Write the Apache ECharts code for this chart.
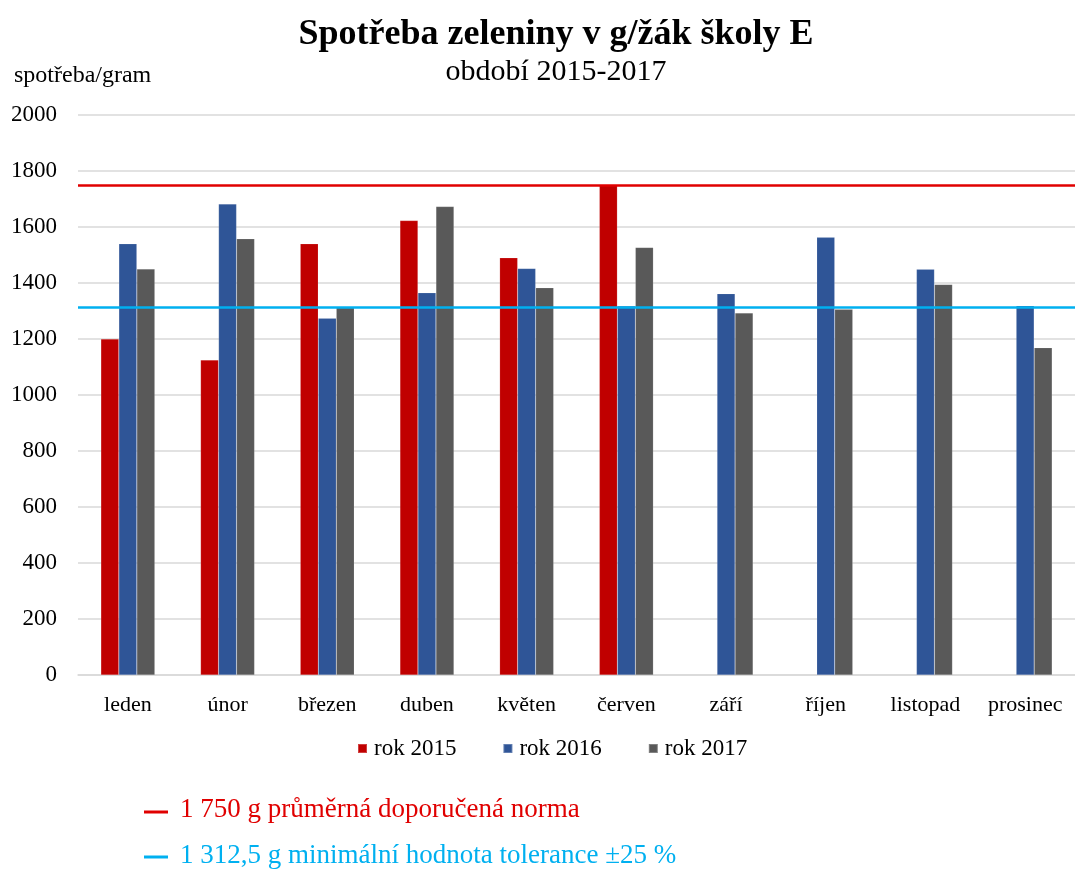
<!DOCTYPE html>
<html>
<head>
<meta charset="utf-8">
<script src="https://cdn.jsdelivr.net/npm/echarts@6/dist/echarts.min.js"></script>
<style>
  html, body { margin: 0; padding: 0; background: #fff; }
  #chart { width: 1075px; height: 872px; }
</style>
</head>
<body>
<div id="chart"></div>
<script>
const months = ['leden', 'únor', 'březen', 'duben', 'květen', 'červen', 'září', 'říjen', 'listopad', 'prosinec']
const rok2015 = [1200, 1125, 1540, 1623, 1490, 1750, null, null, null, null]
const rok2016 = [1540, 1682, 1274, 1365, 1452, 1318, 1362, 1563, 1449, 1319]
const rok2017 = [1450, 1558, 1312, 1673, 1383, 1527, 1293, 1306, 1395, 1169]
const normValue = 1750
const toleranceValue = 1312.5
const normText = '1 750 g průměrná doporučená norma'
const toleranceText = '1 312,5 g minimální hodnota tolerance ±25 %'

const serif = '"Liberation Serif", "DejaVu Serif", serif'
const colors = ['#c00000', '#2f5597', '#595959']

const chart = echarts.init(document.getElementById('chart'), null, { renderer: 'canvas' })

function bar(name, data) {
  return {
    name,
    type: 'bar',
    data,
    barWidth: 18,
    barGap: '0%',
    itemStyle: { borderColor: 'rgba(255,255,255,0.25)', borderWidth: 0.5 },
  }
}

const barSeries = [bar('rok 2015', rok2015), bar('rok 2016', rok2016), bar('rok 2017', rok2017)]
barSeries[0].markLine = {
  silent: true,
  symbol: 'none',
  label: { show: false },
  data: [
    { yAxis: normValue, lineStyle: { color: '#e00000', width: 2.5, type: 'solid' } },
    { yAxis: toleranceValue, lineStyle: { color: '#00b0f0', width: 2.5, type: 'solid' } },
  ],
}

chart.setOption({
  animation: false,
  backgroundColor: '#fff',
  color: colors,
  title: [
    {
      text: 'Spotřeba zeleniny v g/žák školy E',
      left: 551,
      textAlign: 'center',
      top: 12,
      textStyle: { fontFamily: serif, fontSize: 36, fontWeight: 'bold', color: '#000' },
    },
    {
      text: 'období 2015-2017',
      left: 551,
      textAlign: 'center',
      top: 52,
      textStyle: { fontFamily: serif, fontSize: 30, fontWeight: 'normal', color: '#000' },
    },
    {
      text: 'spotřeba/gram',
      left: 9,
      top: 59,
      textStyle: { fontFamily: serif, fontSize: 24, fontWeight: 'normal', color: '#000' },
    },
  ],
  legend: {
    top: 732,
    left: 352,
    icon: 'rect',
    itemWidth: 9,
    itemHeight: 9,
    itemGap: 46,
    textStyle: { fontFamily: serif, fontSize: 23, color: '#000', padding: [0, 0, 0, 2] },
    data: ['rok 2015', 'rok 2016', 'rok 2017'],
  },
  grid: { left: 78, top: 115, width: 1000, bottom: 197 },
  xAxis: {
    type: 'category',
    data: months,
    axisLine: { lineStyle: { color: '#d9d9d9', width: 1.5 } },
    axisTick: { show: false },
    axisLabel: { interval: 0, fontFamily: serif, fontSize: 22, color: '#000', margin: 19 },
  },
  yAxis: {
    type: 'value',
    min: 0,
    max: 2000,
    interval: 200,
    axisLine: { show: false },
    axisTick: { show: false },
    axisLabel: { fontFamily: serif, fontSize: 23, color: '#000', margin: 21, formatter: (v) => String(v) },
    splitLine: { lineStyle: { color: '#d9d9d9', width: 1.5 } },
  },
  graphic: [
    { type: 'line', shape: { x1: 144, y1: 812, x2: 168, y2: 812 }, style: { stroke: '#e00000', lineWidth: 3 } },
    {
      type: 'text', left: 180, top: 796,
      style: { text: normText, fill: '#e00000', font: '27px ' + serif },
    },
    { type: 'line', shape: { x1: 144, y1: 857, x2: 168, y2: 857 }, style: { stroke: '#00b0f0', lineWidth: 3 } },
    {
      type: 'text', left: 180, top: 842,
      style: { text: toleranceText, fill: '#00b0f0', font: '27px ' + serif },
    },
  ],
  series: barSeries,
})
</script>
</body>
</html>
